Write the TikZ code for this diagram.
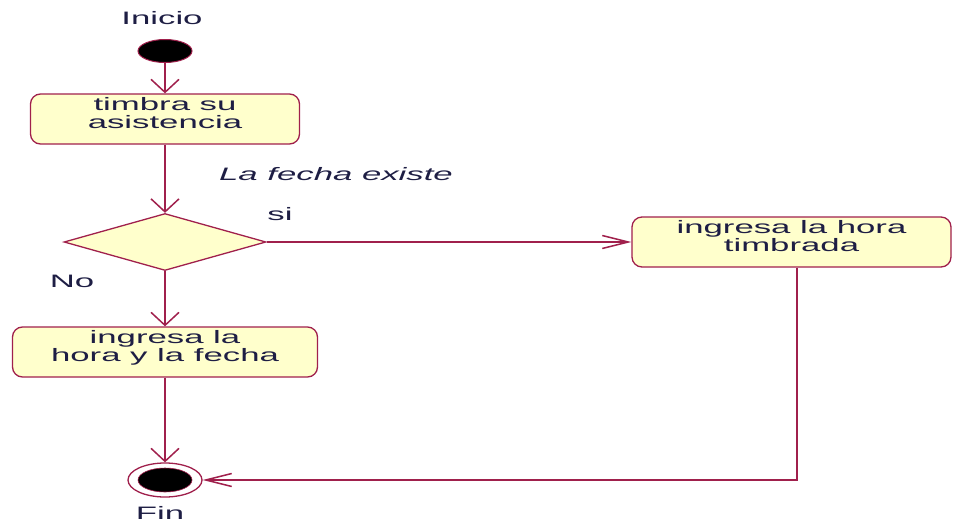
\documentclass[tikz,border=0pt]{standalone}
\usepackage{fontspec}
\setmainfont{Liberation Sans}[FakeStretch=1.93]
\usepackage{xcolor}
\usepackage{tikz}
\usetikzlibrary{arrows.meta,shapes.geometric,positioning}

\definecolor{umlline}{HTML}{A0204C}
\definecolor{umlfill}{HTML}{FFFFCC}
\definecolor{umltext}{HTML}{1E1E44}

\begin{document}
\begin{tikzpicture}[x=1pt, y=-1pt,
        every node/.style={text=umltext, font=\fontsize{18}{18}\selectfont},
        actbox/.style={draw=umlline, fill=umlfill, line width=1.3pt, rounded corners=10pt, align=center, text height=31pt, text depth=13pt, minimum height=50pt, inner sep=0pt},
        decision/.style={diamond, draw=umlline, fill=umlfill, line width=1.3pt, minimum width=202pt, minimum height=57pt, inner sep=0pt},
        startdot/.style={ellipse, draw=umlline, fill=black, line width=1pt, minimum width=54pt, minimum height=23pt, inner sep=0pt},
        endring/.style={ellipse, draw=umlline, fill=white, line width=1.3pt, minimum width=74pt, minimum height=34pt, inner sep=0pt},
        flow/.style={draw=umlline, line width=1.5pt},
        vtip/.style={-{Straight Barb[length=13pt,width=28pt]}},
        htip/.style={-{Straight Barb[length=26pt,width=13pt]}}]
    \useasboundingbox (0,0) rectangle (953,522);

    \node (inicio) at (162,18) {Inicio};
    \node[startdot] (start) at (165,51) {};
    \node[actbox, minimum width=269pt] (timbra) at (165,119) {timbra su\\asistencia};
    \node[font=\fontsize{18}{18}\selectfont\itshape] (guarda) at (336,174) {La fecha existe};
    \node[decision] (dec) at (165,242) {};
    \node (si) at (280,214) {si};
    \node (no) at (72,281) {No};
    \node[actbox, minimum width=305pt] (horafecha) at (165,352) {ingresa la\\hora y la fecha};
    \node[actbox, minimum width=319pt] (timbrada) at (791.5,242) {ingresa la hora\\timbrada};
    \node[endring] (fin) at (165,480) {};
    \node[startdot, minimum width=54pt, minimum height=24pt, line width=0.6pt] (finin) at (fin) {};
    \node (fintxt) at (160,513) {Fin};
    \coordinate (giro) at (797,480);

    \draw[flow, vtip] (start) -- (timbra);
    \draw[flow, vtip] (timbra) -- (dec);
    \draw[flow, htip] (dec) -- (timbrada);
    \draw[flow, vtip] (dec) -- (horafecha);
    \draw[flow, vtip] (horafecha) -- (fin);
    \draw[flow, htip] (timbrada.south -| giro) -- (giro) -- (fin.east);
\end{tikzpicture}
\end{document}
